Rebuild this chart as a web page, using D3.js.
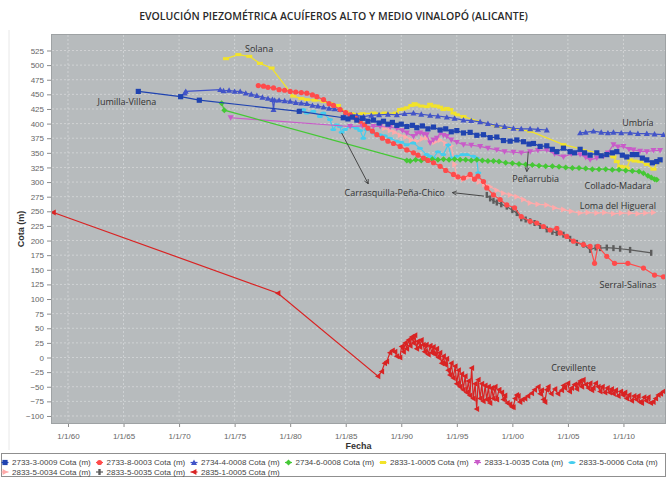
<!DOCTYPE html>
<html>
<head>
<meta charset="utf-8">
<script src="https://cdn.jsdelivr.net/npm/d3@7"></script>
<style>
  html, body { margin: 0; padding: 0; background: #ffffff; }
  svg { display: block; }
</style>
</head>
<body>
<svg id="chart" width="667" height="479"></svg>
<script>
// ---- Axis ticks ----
const xTickYears = [1960, 1965, 1970, 1975, 1980, 1985, 1990, 1995, 2000, 2005, 2010];
const xTickLabels = ["1/1/60", "1/1/65", "1/1/70", "1/1/75", "1/1/80", "1/1/85", "1/1/90", "1/1/95", "1/1/00", "1/1/05", "1/1/10"];
const yTickValues = [-100, -75, -50, -25, 0, 25, 50, 75, 100, 125, 150, 175, 200, 225, 250, 275, 300, 325, 350, 375, 400, 425, 450, 475, 500, 525];

// ---- Series names (legend order) ----
const seriesNames = [
  "2733-3-0009 Cota (m)", "2733-8-0003 Cota (m)", "2734-4-0008 Cota (m)", "2734-6-0008 Cota (m)",
  "2833-1-0005 Cota (m)", "2833-1-0035 Cota (m)", "2833-5-0006 Cota (m)",
  "2833-5-0034 Cota (m)", "2833-5-0035 Cota (m)", "2835-1-0005 Cota (m)"
];

// ---- Piezometric level, [year, cota (m)] ----
const s2733_3_0009 = [
  [1966.33,455],[1970.14,446],[1971.82,440],[1980.82,421],[1984.78,410],[1985.2,408],[1985.6,411],
  [1986.0,406],[1986.5,409],[1987.0,404],[1987.5,406],[1988.0,401],[1988.4,404],[1988.8,399],
  [1989.2,402],[1989.6,397],[1990.0,399],[1990.5,395],[1991.0,397],[1991.4,393],[1991.9,396],
  [1992.4,391],[1992.9,394],[1993.5,389],[1994.0,391],[1994.5,386],[1995.0,388],[1995.6,384],
  [1996.2,385],[1996.8,380],[1997.4,381],[1998.0,376],[1998.6,377],[1999.2,371],[1999.8,370],
  [2000.4,372],[2001.0,369],[2001.5,365],[2001.9,366],[2002.5,361],[2003.1,362],[2003.6,356],
  [2004.0,352],[2004.6,358],[2005.2,352],[2005.6,350],[2006.1,356],[2006.5,350],[2007.0,346],
  [2007.6,350],[2008.0,345],[2008.5,347],[2009.0,350],[2009.4,352],[2009.9,346],[2010.3,343],
  [2010.8,347],[2011.2,347],[2011.7,341],[2012.1,338],[2012.6,333],[2013.0,335],[2013.3,338]
];
const s2733_8_0003 = [
  [1977.13,465],[1977.6,464],[1978.0,462],[1978.5,461],[1979.0,458],[1979.5,457],[1980.0,455],
  [1980.5,454],[1981.0,453],[1981.5,452],[1982.0,449],[1982.4,446],[1983.0,441],[1983.5,434],
  [1983.9,431],[1984.5,424],[1985.0,419],[1985.4,415],[1985.9,409],[1986.3,404],[1986.7,398],
  [1987.0,392],[1987.4,387],[1987.8,381],[1988.3,375],[1988.8,370],[1989.3,366],[1989.9,361],
  [1990.5,355],[1991.1,350],[1991.5,346],[1992.0,341],[1992.4,337],[1992.9,333],[1993.5,327],
  [1994.0,320],[1994.7,313],[1995.1,309],[1995.6,307],[1996.2,313],[1996.6,305],[1996.9,310],
  [1997.4,301],[1997.7,290],[1998.3,278],[1998.9,270],[1999.5,261],[2000.2,256],[2000.8,241],
  [2001.6,233],[2002.2,230],[2002.8,224],[2003.4,218],[2004.0,221],[2004.3,213],[2004.9,207],
  [2005.5,199],[2006.4,193],[2007.0,190],[2007.4,161],[2007.7,190],[2008.5,173],[2009.2,161],
  [2010.4,161],[2011.8,153],[2012.8,141],[2013.6,138]
];
const s2734_4_0008 = [
  [1970.5,452],[1970.6,455],[1973.7,458],[1974.0,456],[1974.5,457],[1975.0,455],[1975.5,455],
  [1976.0,452],[1976.5,450],[1977.0,448],[1977.5,445],[1978.0,443],[1978.4,441],[1978.5,424],
  [1978.6,440],[1979.0,440],[1979.5,439],[1980.0,438],[1980.5,436],[1981.0,435],[1981.5,434],
  [1982.0,431],[1982.5,430],[1983.0,428],[1983.5,426],[1984.0,425],[1984.5,424],[1985.0,418],
  [1985.5,415],[1986.0,414],[1986.6,412],[1987.3,414],[1988.0,415],[1988.8,416],[1989.6,415],
  [1990.3,417],[1991.1,418],[1991.8,416],[1992.6,414],[1993.3,413],[1994.1,411],[1994.8,409],
  [1995.6,406],[1996.3,405],[1997.1,403],[1997.8,400],[1998.6,397],[1999.3,395],[2000.1,392],
  [2000.8,391],[2001.6,391],[2002.3,390],[2003.1,389],[2004.5,null],[2006.1,384],[2006.6,385],
  [2007.3,387],[2008.0,385],[2008.6,384],[2009.1,385],[2009.8,384],[2010.6,384],[2011.3,383],
  [2012.1,383],[2012.8,382],[2013.6,381]
];
const s2734_6_0008 = [
  [1973.83,435],[1974.07,423],[1990.5,337],[1990.8,336],[1991.3,338],[1991.8,337],[1992.3,338],
  [1992.8,339],[1993.3,338],[1993.8,339],[1994.3,338],[1994.8,339],[1995.3,338],[1995.8,338],
  [1996.3,337],[1996.8,338],[1997.3,337],[1997.8,336],[1998.3,336],[1998.8,335],[1999.4,333],
  [2000.0,332],[2000.6,331],[2001.2,330],[2001.8,329],[2002.4,328],[2003.0,327],[2003.6,327],
  [2004.2,326],[2004.8,325],[2005.4,324],[2006.0,324],[2006.6,323],[2007.2,322],[2007.8,322],
  [2008.4,322],[2009.0,321],[2009.6,321],[2010.2,320],[2010.8,319],[2011.4,318],[2011.8,315],
  [2012.2,311],[2012.5,308],[2012.8,305],[2013.0,304]
];
const s2833_1_0005 = [
  [1974.22,511],[1975.33,518],[1976.32,515],[1977.28,503],[1978.33,495],[1980.28,447],[1981.0,443],
  [1981.5,441],[1982.2,440],[1983.0,438],[1983.6,434],[1984.3,431],[1985.0,420],[1985.5,417],
  [1986.5,417],[1987.5,418],[1988.5,418],[1989.5,418],[1989.9,424],[1990.2,425],[1990.5,427],
  [1990.9,431],[1991.2,434],[1991.4,432],[1991.8,430],[1992.3,429],[1992.6,433],[1992.9,430],
  [1993.2,430],[1993.5,428],[1993.8,424],[1994.1,426],[1994.4,424],[1994.7,418],[1995.0,415],
  [1995.6,412],[1998.6,395],[2001.6,387],[2004.6,364],[2009.1,343],[2009.4,335],[2009.7,327],
  [2010.0,326],[2010.3,324],[2010.6,338],[2011.0,336],[2011.5,335],[2012.1,330],[2012.7,322],
  [2013.1,335]
];
const s2833_1_0035 = [
  [1974.64,410],[1985.4,395],[1986.5,396],[1987.5,395],[1988.1,395],[1989.0,394],[1989.6,392],
  [1990.1,388],[1990.5,384],[1991.1,378],[1991.4,383],[1991.7,384],[1992.0,382],[1992.3,381],
  [1992.6,367],[1992.9,372],[1993.2,375],[1993.5,384],[1993.8,380],[1994.1,378],[1994.5,372],
  [1995.0,368],[1995.6,364],[1996.3,363],[1997.1,361],[1997.8,358],[1998.6,355],[1999.3,352],
  [2000.1,351],[2000.8,350],[2001.6,352],[2002.3,354],[2003.1,355],[2003.8,348],[2004.6,343],
  [2005.3,348],[2006.1,347],[2006.6,342],[2007.0,338],[2007.6,341],[2008.2,344],[2008.6,350],
  [2009.1,364],[2009.5,360],[2010.0,361],[2010.5,356],[2010.9,355],[2011.5,353],[2012.1,352],
  [2012.7,354],[2013.3,354]
];
const s2833_5_0006 = [
  [1981.18,424],[1981.49,418],[1982.08,421],[1982.68,412],[1982.98,418],[1983.58,407],[1983.88,390],
  [1984.18,398],[1984.48,395],[1984.63,385],[1984.93,390],[1985.38,395],[1985.98,392],[1986.3,388],
  [1986.58,375],[1986.88,390],[1987.48,384],[1988.08,381],[1988.5,379],[1988.98,375],[1989.59,370],
  [1990.0,368],[1990.48,364],[1991.08,367],[1991.68,358],[1992.28,347],[1992.58,344],[1992.88,341],
  [1993.3,352],[1993.78,347],[1994.23,364],[1994.53,341],[1994.99,344],[1995.5,347],[1995.89,347],
  [1996.48,344],[1996.79,341],[1996.93,316]
];
const s2833_5_0034 = [
  [1988.5,392],[1989.0,388],[1989.4,385],[1989.9,380],[1990.4,377],[1990.9,372],[1991.4,370],
  [1991.9,374],[1992.3,376],[1992.6,370],[1993.0,368],[1993.5,372],[1994.0,366],[1994.5,362],
  [1994.8,330],[1995.0,308],[1995.6,305],[1996.0,308],[1996.5,307],[1997.0,300],[1997.5,296],
  [1998.0,292],[1998.6,286],[1999.2,281],[1999.8,278],[2000.4,275],[2001.0,270],[2001.6,264],
  [2002.3,262],[2003.1,261],[2003.8,256],[2004.6,253],[2005.3,250],[2006.1,247],[2006.8,248],
  [2007.6,247],[2008.3,248],[2009.1,246],[2009.8,247],[2010.6,247],[2011.3,246],[2012.0,247],
  [2012.7,248]
];
const s2833_5_0035 = [
  [1997.7,278],[1998.0,272],[1998.3,268],[1998.6,265],[1999.0,262],[1999.5,258],[2000.0,252],
  [2000.4,247],[2000.8,238],[2001.2,236],[2001.6,233],[2002.0,230],[2002.5,225],[2003.1,219],
  [2003.6,215],[2004.0,213],[2004.6,210],[2005.2,203],[2005.8,196],[2006.4,193],[2007.0,184],
  [2007.5,188],[2007.9,187],[2008.5,188],[2009.1,187],[2009.7,186],[2010.6,184],[2012.5,179]
];
const s2835_1_0005 = [
  [1958.68,248],[1978.9,110],[1987.9,-32],[1988.24,-24],[1988.5,-10],[1988.69,-7],[1988.98,8],
  [1989.2,12],[1989.43,10],[1989.59,2],[1989.88,0],[1990.03,19],[1990.2,10],[1990.35,25],
  [1990.49,15],[1990.65,30],[1990.8,20],[1990.94,35],[1991.1,25],[1991.23,38],[1991.39,15],
  [1991.5,28],[1991.68,18],[1991.8,30],[1991.98,22],[1992.1,10],[1992.25,22],[1992.43,5],
  [1992.6,20],[1992.75,8],[1992.88,18],[1993.05,5],[1993.19,15],[1993.35,0],[1993.48,8],
  [1993.64,-10],[1993.8,2],[1993.93,-12],[1994.1,-2],[1994.23,-22],[1994.38,-30],[1994.5,-10],
  [1994.68,-35],[1994.85,-15],[1994.99,-45],[1995.15,-22],[1995.28,-50],[1995.45,-28],[1995.58,-55],
  [1995.75,-32],[1995.89,-60],[1996.05,-40],[1996.18,-65],[1996.34,-18],[1996.48,-70],[1996.65,-45],
  [1996.79,-88],[1996.93,-38],[1997.1,-70],[1997.25,-45],[1997.38,-75],[1997.55,-48],[1997.69,-72],
  [1997.85,-50],[1997.98,-78],[1998.15,-52],[1998.28,-70],[1998.45,-50],[1998.59,-72],[1998.8,-55],
  [1999.04,-60],[1999.2,-72],[1999.33,-65],[1999.55,-78],[1999.78,-80],[1999.94,-84],[2000.08,-85],
  [2000.25,-70],[2000.39,-64],[2000.53,-66],[2000.68,-76],[2000.9,-72],[2001.13,-70],[2001.4,-66],
  [2001.74,-61],[2002.0,-55],[2002.33,-50],[2002.5,-62],[2002.64,-56],[2002.8,-72],[2002.93,-76],
  [2003.1,-55],[2003.23,-50],[2003.5,-62],[2003.83,-54],[2004.1,-62],[2004.44,-56],[2004.6,-48],
  [2004.73,-52],[2005.0,-44],[2005.15,-58],[2005.33,-52],[2005.6,-46],[2005.8,-54],[2005.93,-45],
  [2006.1,-40],[2006.25,-50],[2006.38,-38],[2006.6,-46],[2006.83,-52],[2007.0,-44],[2007.15,-56],
  [2007.28,-52],[2007.5,-44],[2007.73,-50],[2007.9,-58],[2008.1,-50],[2008.33,-60],[2008.55,-52],
  [2008.75,-60],[2008.93,-54],[2009.1,-62],[2009.3,-56],[2009.53,-66],[2009.75,-58],[2009.95,-64],
  [2010.13,-60],[2010.3,-70],[2010.5,-64],[2010.74,-74],[2010.95,-66],[2011.15,-72],[2011.33,-66],
  [2011.5,-76],[2011.64,-78],[2011.85,-68],[2012.05,-74],[2012.23,-68],[2012.45,-78],[2012.68,-76],
  [2012.9,-70],[2013.13,-64],[2013.35,-62],[2013.58,-58]
];

// ---- Aquifer labels and pointer arrows ----
const labelTexts  = ["Solana", "Jumilla-Villena", "Umbría", "Peñarrubia", "Collado-Madara",
                     "Carrasquilla-Peña-Chico", "Loma del Higueral", "Serral-Salinas", "Crevillente"];
const labelYears  = [1977.2, 1965.3, 2011.3, 2002.1, 2009.5, 1989.4, 2009.5, 2010.4, 2005.5];
const labelValues = [528, 438, 401, 306, 294, 282, 260, 125, -18];
const arrowFrom = [[1984.63, 384], [1997.44, 276], [2001.43, 352]];
const arrowTo   = [[1987.03, 297], [1994.6, 282], [2001.3, 318]];

// ---- Styling per series ----
const seriesData = [s2733_3_0009, s2733_8_0003, s2734_4_0008, s2734_6_0008, s2833_1_0005,
                    s2833_1_0035, s2833_5_0006, s2833_5_0034, s2833_5_0035, s2835_1_0005];
const seriesColors = ["#1f43b0", "#ff4b4b", "#4254c8", "#45c835", "#f2e32a",
                      "#c95bc9", "#45cdee", "#ffaaaa", "#5c5c5c", "#d92323"];
const seriesShapes = ["square", "circle", "triUp", "diamond", "hRect",
                      "triDown", "hEllipse", "triRight", "vRect", "triLeft"];

const shapePaths = {
  square:   "M-2.6,-2.6h5.2v5.2h-5.2z",
  circle:   "M-2.6,0a2.6,2.6 0 1,0 5.2,0a2.6,2.6 0 1,0 -5.2,0",
  triUp:    "M0,-3L3,2.4L-3,2.4Z",
  diamond:  "M0,-3L3,0L0,3L-3,0Z",
  hRect:    "M-3,-1.5h6v3h-6z",
  triDown:  "M0,3L3,-2.4L-3,-2.4Z",
  hEllipse: "M-3,0a3,1.5 0 1,0 6,0a3,1.5 0 1,0 -6,0",
  triRight: "M3,0L-2.4,-3L-2.4,3Z",
  vRect:    "M-1.2,-3h2.4v6h-2.4z",
  triLeft:  "M-3,0L2.4,-3L2.4,3Z"
};

const svg = d3.select("#chart");
const plot = { left: 52, right: 665, top: 35, bottom: 423 };

const x = d3.scaleLinear().domain([1958.56, 2013.74]).range([plot.left, plot.right]);
const y = d3.scaleLinear().domain([-112, 551.5]).range([plot.bottom, plot.top]);

// Title
svg.append("text")
  .attr("x", 333.5).attr("y", 20)
  .attr("text-anchor", "middle")
  .style("font-family", "'Open Sans', sans-serif")
  .style("font-size", "10.5px").style("font-weight", 600)
  .attr("fill", "#2a2a2a")
  .text("EVOLUCIÓN PIEZOMÉTRICA ACUÍFEROS ALTO Y MEDIO VINALOPÓ (ALICANTE)");

// faint panel edge
svg.append("line").attr("x1", 9).attr("x2", 9).attr("y1", 30).attr("y2", 450)
  .attr("stroke", "#e8e8e8").attr("stroke-width", 1);

// Plot background
svg.append("rect")
  .attr("x", plot.left).attr("y", plot.top)
  .attr("width", plot.right - plot.left).attr("height", plot.bottom - plot.top)
  .attr("fill", "#b7bbbd");

// Gridlines
const grid = svg.append("g").attr("stroke", "#d5d8d9").attr("stroke-width", 0.8).attr("stroke-dasharray", "2,2");
grid.selectAll("line.h").data(yTickValues).join("line")
  .attr("x1", plot.left).attr("x2", plot.right)
  .attr("y1", d => y(d)).attr("y2", d => y(d));
grid.selectAll("line.v").data(xTickYears).join("line")
  .attr("y1", plot.top).attr("y2", plot.bottom)
  .attr("x1", d => x(d)).attr("x2", d => x(d));

// Axes
const yAxis = svg.append("g").attr("transform", `translate(${plot.left - 1},0)`)
  .call(d3.axisLeft(y).tickValues(yTickValues).tickSize(4).tickPadding(3));
const xAxis = svg.append("g").attr("transform", `translate(0,${plot.bottom + 1})`)
  .call(d3.axisBottom(x).tickValues(xTickYears).tickSize(3).tickPadding(6)
    .tickFormat((d, i) => xTickLabels[i]));
[yAxis, xAxis].forEach(a => {
  a.select(".domain").remove();
  a.selectAll(".tick line").attr("stroke", "#8c8c8c");
  a.selectAll(".tick text")
    .style("font-family", "'Liberation Sans', Arial, sans-serif")
    .style("font-size", "8px").attr("fill", "#666");
});

// Plot frame
svg.append("rect")
  .attr("x", plot.left - 0.5).attr("y", plot.top - 0.5)
  .attr("width", plot.right - plot.left + 1).attr("height", plot.bottom - plot.top + 1)
  .attr("fill", "none").attr("stroke", "#9ea2a4").attr("stroke-width", 1);

// Axis titles
svg.append("text")
  .attr("transform", `translate(24,${(plot.top + plot.bottom) / 2}) rotate(-90)`)
  .attr("text-anchor", "middle")
  .style("font-family", "'Liberation Sans', Arial, sans-serif")
  .style("font-size", "9px").style("font-weight", "bold")
  .attr("fill", "#333").text("Cota (m)");
svg.append("text")
  .attr("x", (plot.left + plot.right) / 2).attr("y", 449)
  .attr("text-anchor", "middle")
  .style("font-family", "'Liberation Sans', Arial, sans-serif")
  .style("font-size", "9px").style("font-weight", "bold")
  .attr("fill", "#333").text("Fecha");

// Series (first series drawn last, on top)
svg.append("clipPath").attr("id", "plotClip").append("rect")
  .attr("x", plot.left).attr("y", plot.top)
  .attr("width", plot.right - plot.left).attr("height", plot.bottom - plot.top);

const lineGen = d3.line()
  .defined(d => d[1] !== null)
  .x(d => x(d[0])).y(d => y(d[1]));

const seriesLayer = svg.append("g").attr("clip-path", "url(#plotClip)");
for (let i = seriesData.length - 1; i >= 0; i--) {
  const g = seriesLayer.append("g");
  g.append("path")
    .attr("d", lineGen(seriesData[i]))
    .attr("fill", "none")
    .attr("stroke", seriesColors[i])
    .attr("stroke-width", 1.2);
  g.selectAll("path.pt").data(seriesData[i].filter(d => d[1] !== null)).join("path")
    .attr("class", "pt")
    .attr("transform", d => `translate(${x(d[0])},${y(d[1])})`)
    .attr("d", shapePaths[seriesShapes[i]])
    .attr("fill", seriesColors[i]);
}

// Arrows
const defs = svg.append("defs");
defs.append("marker")
  .attr("id", "arrowHead").attr("viewBox", "0 0 10 10")
  .attr("refX", 9).attr("refY", 5)
  .attr("markerWidth", 6).attr("markerHeight", 6)
  .attr("orient", "auto")
  .append("path").attr("d", "M1,1L9,5L1,9").attr("fill", "none")
  .attr("stroke", "#3a3a3a").attr("stroke-width", 1.4);
svg.append("g").selectAll("line").data(arrowFrom).join("line")
  .attr("x1", d => x(d[0])).attr("y1", d => y(d[1]))
  .attr("x2", (d, i) => x(arrowTo[i][0])).attr("y2", (d, i) => y(arrowTo[i][1]))
  .attr("stroke", "#3a3a3a").attr("stroke-width", 0.9)
  .attr("marker-end", "url(#arrowHead)");

// Aquifer labels
svg.append("g").selectAll("text").data(labelTexts).join("text")
  .attr("x", (d, i) => x(labelYears[i]))
  .attr("y", (d, i) => y(labelValues[i]))
  .attr("dy", "0.35em")
  .attr("text-anchor", "middle")
  .style("font-family", "'Open Sans', sans-serif")
  .style("font-size", "9px")
  .attr("fill", "#333")
  .text(d => d);

// Legend
svg.append("rect")
  .attr("x", 1.5).attr("y", 453.5).attr("width", 664).attr("height", 23)
  .attr("fill", "#fff").attr("stroke", "#8f8f8f").attr("stroke-width", 1);
const legendColX = [5, 99.5, 194, 288.5, 383, 477.5, 572];
const legendRowY = [462.5, 472];
const legend = svg.append("g");
seriesNames.forEach((name, i) => {
  const cx = legendColX[i % 7];
  const cy = legendRowY[Math.floor(i / 7)];
  const item = legend.append("g").attr("transform", `translate(${cx},${cy})`);
  item.append("line").attr("x1", -3.5).attr("x2", 3.5).attr("y1", 0).attr("y2", 0)
    .attr("stroke", seriesColors[i]).attr("stroke-width", 1.2);
  item.append("path").attr("d", shapePaths[seriesShapes[i]]).attr("fill", seriesColors[i]);
  item.append("text").attr("x", 7).attr("y", 0).attr("dy", "0.35em")
    .style("font-family", "'Liberation Sans', Arial, sans-serif")
    .style("font-size", "8px").attr("fill", "#444")
    .text(name);
});
</script>
</body>
</html>
